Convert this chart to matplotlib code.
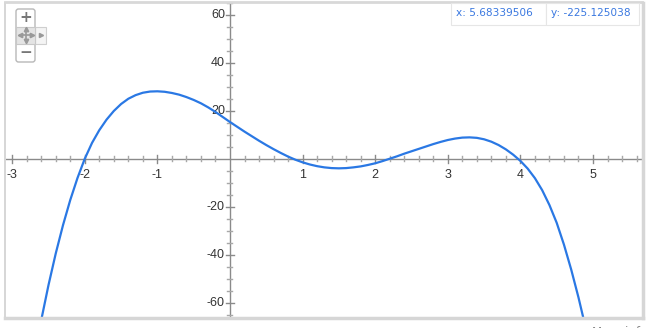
import matplotlib
matplotlib.use("Agg")
import matplotlib.pyplot as plt
from matplotlib.patches import Rectangle, FancyBboxPatch

# Curve samples
x_vals = [-2.6, -2.5, -2.4, -2.3, -2.2, -2.1, -2.0, -1.9, -1.8, -1.7, -1.6, -1.5,
          -1.4, -1.3, -1.2, -1.1, -1.0, -0.9, -0.8, -0.7, -0.6, -0.5, -0.4, -0.3,
          -0.2, -0.1, 0.0, 0.1, 0.2, 0.3, 0.4, 0.5, 0.6, 0.7, 0.8, 0.9, 1.0, 1.1,
          1.2, 1.3, 1.4, 1.5, 1.6, 1.7, 1.8, 1.9, 2.0, 2.1, 2.2, 2.3, 2.4, 2.5,
          2.6, 2.7, 2.8, 2.9, 3.0, 3.1, 3.2, 3.3, 3.4, 3.5, 3.6, 3.7, 3.8, 3.9,
          4.0, 4.1, 4.2, 4.3, 4.4, 4.5, 4.6, 4.7, 4.8, 4.9]
y_vals = [-67.3, -52.7, -39.5, -27.7, -17.2, -8.0, 0.0, 6.6, 11.9, 16.3, 19.9, 22.8,
          25.0, 26.5, 27.5, 28.0, 28.1, 27.9, 27.4, 26.7, 25.7, 24.5, 23.1, 21.4,
          19.5, 17.4, 15.3, 13.3, 11.3, 9.4, 7.5, 5.7, 4.0, 2.4, 0.9, -0.4, -1.5, -2.4,
          -3.1, -3.6, -3.9, -4.0, -3.9, -3.6, -3.2, -2.6, -1.9, -1.0, 0.0, 1.0, 2.1, 3.1,
          4.1, 5.1, 6.1, 7.0, 7.8, 8.4, 8.8, 8.9, 8.7, 8.1, 7.1, 5.7, 3.9, 1.7,
          -0.9, -4.1, -8.1, -13.1, -19.3, -26.7, -35.8, -46.2, -57.8, -70.6]

x_ticks = [-3, -2, -1, 1, 2, 3, 4, 5]
y_ticks = [-60, -40, -20, 20, 40, 60]
x_readout = "x: 5.68339506"
y_readout = "y: -225.125038"

W, H = 651, 328
fig = plt.figure(figsize=(W / 100, H / 100), dpi=100)
fig.patch.set_facecolor("white")

# frame of plot area
L, R, T, B = 6, 642, 3, 317
XMIN, XMAX, YMIN, YMAX = -3.085, 5.675, -65.96, 64.9
ax = fig.add_axes([L / W, 1 - B / H, (R - L) / W, (B - T) / H])
ax.set_xlim(XMIN, XMAX)
ax.set_ylim(YMIN, YMAX)
for s in ax.spines.values():
    s.set_visible(False)
ax.set_xticks([])
ax.set_yticks([])
ax.set_facecolor("white")

axis_col = "#8a8a8a"
tick_col = "#a8a8a8"
lab_font = "Liberation Sans"
ax.axhline(0, color=axis_col, lw=1.0, zorder=2)
ax.axvline(0, color=axis_col, lw=1.0, zorder=2)

px_per_x = (R - L) / (XMAX - XMIN)
px_per_y = (B - T) / (YMAX - YMIN)

# x ticks (minor every 0.2, major every 1)
for i in range(-15, 29):
    xv = i * 0.2
    if abs(xv) < 1e-9:
        continue
    major = abs(xv - round(xv)) < 1e-9
    h = (4.0 if major else 2.5) / px_per_y
    ax.plot([xv, xv], [-h, h], color=axis_col if major else tick_col, lw=1.0, zorder=2)
# y ticks (minor every 5, major every 20)
for j in range(-13, 14):
    yv = j * 5
    if yv == 0:
        continue
    major = yv % 20 == 0
    w = (4.0 if major else 2.5) / px_per_x
    ax.plot([-w, w], [yv, yv], color=axis_col if major else tick_col, lw=1.0, zorder=2)

for xt in x_ticks:
    ax.text(xt, -4.3, str(xt), ha="center", va="top", fontsize=9,
            color="#333333", family=lab_font, zorder=3)
for yt in y_ticks:
    ax.text(-0.07, yt, str(yt), ha="right", va="center", fontsize=9,
            color="#333333", family=lab_font, zorder=3)

ax.plot(x_vals, y_vals, color="#2a78e4", lw=1.6, zorder=4,
        solid_capstyle="round", solid_joinstyle="round")

# overlay axes in figure pixel coords for widgets
ov = fig.add_axes([0, 0, 1, 1])
ov.set_xlim(0, W)
ov.set_ylim(H, 0)
ov.axis("off")
ov.patch.set_alpha(0)

# frame borders / shadows
ov.plot([L - 1, L - 1], [T, B], color="#d0d0d0", lw=1.2)
ov.plot([L - 1, R], [T - 1, T - 1], color="#d8d8d8", lw=2)
ov.plot([L - 1, R + 1], [B + 1, B + 1], color="#d6d6d6", lw=2.5)
ov.plot([R + 1, R + 1], [T, B + 1], color="#d6d6d6", lw=2.5)

# zoom widget
ov.add_patch(FancyBboxPatch((16, 9), 19, 53, boxstyle="round,pad=0,rounding_size=2.5",
                            fc="white", ec="#b8b8b8", lw=1.0, zorder=5))
ov.add_patch(Rectangle((16, 26.5), 19, 17, fc="#e4e4e4", ec="#c8c8c8", lw=0.8, zorder=6))
ov.add_patch(Rectangle((35, 26.5), 11, 17, fc="#f4f4f4", ec="#cfcfcf", lw=0.8, zorder=5))
ov.text(25.5, 17.5, "+", ha="center", va="center", fontsize=11, color="#777777",
        weight="bold", zorder=7)
ov.text(25.5, 52.5, "\u2212", ha="center", va="center", fontsize=11, color="#777777",
        weight="bold", zorder=7)
# move icon
ov.plot([19.5, 31.5], [35, 35], color="#999999", lw=1.2, zorder=7)
ov.plot([25.5, 25.5], [29, 41], color="#999999", lw=1.2, zorder=7)
for (px, py, mk) in [(19.5, 35, "<"), (31.5, 35, ">"), (25.5, 29, "^"), (25.5, 41, "v")]:
    ov.plot(px, py, marker=mk, ms=3.2, color="#999999", zorder=7)
ov.plot(41, 35, marker=">", ms=3.0, color="#999999", zorder=7)

# readout boxes
ov.add_patch(Rectangle((451, 3), 95, 22, fc="white", ec="#e6e6e6", lw=0.8, zorder=5))
ov.add_patch(Rectangle((546, 3), 93, 22, fc="white", ec="#e6e6e6", lw=0.8, zorder=5))
ov.text(456, 13.5, x_readout, ha="left", va="center", fontsize=7.6,
        color="#3a78e0", zorder=6)
ov.text(551, 13.5, y_readout, ha="left", va="center", fontsize=7.6,
        color="#3a78e0", zorder=6)

# "More info" link, cut off by the bottom edge as in the reference
ov.text(592, 333, "More info", ha="left", va="center", fontsize=8.5,
        color="#888888", zorder=6, clip_on=False)

fig.savefig("out.png", dpi=100)
